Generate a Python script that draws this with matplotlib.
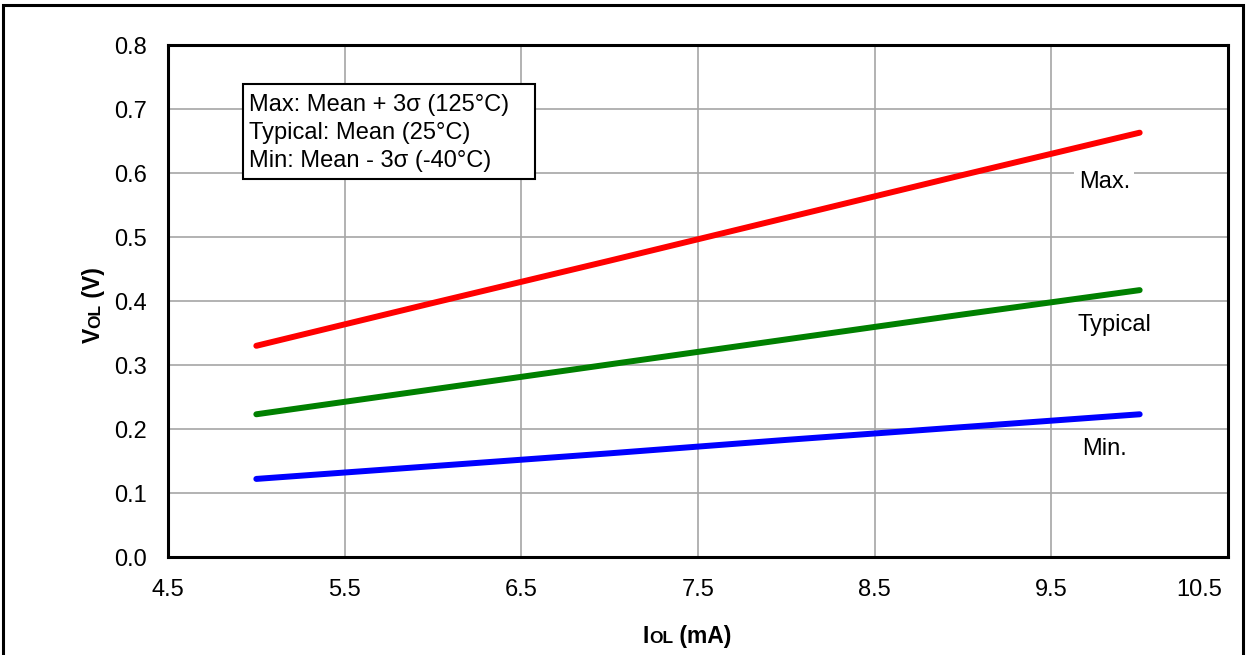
import matplotlib
matplotlib.use("Agg")
import matplotlib.pyplot as plt
import matplotlib.transforms as mtransforms
from matplotlib.patches import Rectangle

plt.rcParams['font.family'] = ['Liberation Sans', 'DejaVu Sans']

iol = [5, 6, 7, 8, 9, 10]
vol_max = [0.330, 0.397, 0.463, 0.530, 0.597, 0.663]
vol_typ = [0.223, 0.262, 0.301, 0.340, 0.379, 0.417]
vol_min = [0.122, 0.142, 0.162, 0.183, 0.203, 0.223]
x_ticks = [4.5, 5.5, 6.5, 7.5, 8.5, 9.5, 10.5]
y_ticks = [0.0, 0.1, 0.2, 0.3, 0.4, 0.5, 0.6, 0.7, 0.8]
legend_text = "Max: Mean + 3σ (125°C)\nTypical: Mean (25°C)\nMin: Mean - 3σ (-40°C)"

W, H = 1246, 655
fig = plt.figure(figsize=(W / 100, H / 100), dpi=100)
ax = fig.add_axes([168 / W, 1 - 557 / H, (1228 - 168) / W, (557 - 45) / H])

ax.plot(iol, vol_max, color='#ff0000', lw=4.3, solid_capstyle='round', zorder=3)
ax.plot(iol, vol_typ, color='#008000', lw=4.3, solid_capstyle='round', zorder=3)
ax.plot(iol, vol_min, color='#0000ff', lw=4.3, solid_capstyle='round', zorder=3)

ax.set_xlim(4.5, 10.5)
ax.set_ylim(0.0, 0.8)
ax.set_xticks(x_ticks)
ax.set_yticks(y_ticks)
ax.set_xticklabels([f"{v:.1f}" for v in x_ticks])
ax.set_yticklabels([f"{v:.1f}" for v in y_ticks])
ax.tick_params(length=0, labelsize=17)
ax.tick_params(axis='x', pad=16)
ax.tick_params(axis='y', pad=15)
ax.grid(True, color='#a6a6a6', lw=1.2)
ax.set_axisbelow(True)
for s in ax.spines.values():
    s.set_linewidth(2.2)
    s.set_color('black')

# keep last x tick label inside the plot width
last = ax.get_xticklabels()[-1]
last.set_horizontalalignment('right')
last.set_transform(last.get_transform() + mtransforms.ScaledTranslation(-6 / 100, 0, fig.dpi_scale_trans))

lab_fs = 17
ax.text(9.80, 0.586, "Max.", fontsize=lab_fs, ha='center', va='center',
        bbox=dict(facecolor='white', edgecolor='none', pad=3), zorder=4)
ax.text(9.86, 0.3625, "Typical", fontsize=lab_fs, ha='center', va='center',
        bbox=dict(facecolor='white', edgecolor='none', pad=3), zorder=4)
ax.text(9.80, 0.169, "Min.", fontsize=lab_fs, ha='center', va='center',
        bbox=dict(facecolor='white', edgecolor='none', pad=3), zorder=4)

# legend box
bx0, bx1, by0, by1 = 243, 535, 84, 179
ax.add_patch(Rectangle(((bx0 - 168) / 1060, (557 - by1) / 512), (bx1 - bx0) / 1060, (by1 - by0) / 512,
                       transform=ax.transAxes, facecolor='white', edgecolor='black', lw=1.5, zorder=5))
ax.text((249 - 168) / 1060, (557 - 133) / 512, legend_text, transform=ax.transAxes,
        fontsize=17, ha='left', va='center', linespacing=1.34, zorder=6)

# figure border
fig.patches.append(Rectangle((3 / W, -0.02), (1243 - 3) / W, 1.02 - 5 / H,
                             transform=fig.transFigure, fill=False, edgecolor='black', lw=2.2))

# axis labels with small caps subscripts
fig.canvas.draw()
r = fig.canvas.get_renderer()
big, small = 16.5, 12.5
# x label
x0 = 643 / W
yb = 1 - 643 / H
t = fig.text(x0, yb, "I", fontsize=big, fontweight='bold', ha='left', va='baseline')
e = t.get_window_extent(r)
t2 = fig.text(e.x1 / W, yb, "OL", fontsize=small, fontweight='bold', ha='left', va='baseline')
e2 = t2.get_window_extent(r)
fig.text(e2.x1 / W, yb, " (mA)", fontsize=big, fontweight='bold', ha='left', va='baseline')
# y label
xb = 100 / W
y0 = 1 - 343 / H
t = fig.text(xb, y0, "V", fontsize=big, fontweight='bold', rotation=90,
             rotation_mode='anchor', ha='left', va='baseline')
e = t.get_window_extent(r)
t2 = fig.text(xb, e.y1 / H, "OL", fontsize=small, fontweight='bold', rotation=90,
              rotation_mode='anchor', ha='left', va='baseline')
e2 = t2.get_window_extent(r)
fig.text(xb, e2.y1 / H, " (V)", fontsize=big, fontweight='bold', rotation=90,
         rotation_mode='anchor', ha='left', va='baseline')

fig.savefig("out.png", dpi=100)
